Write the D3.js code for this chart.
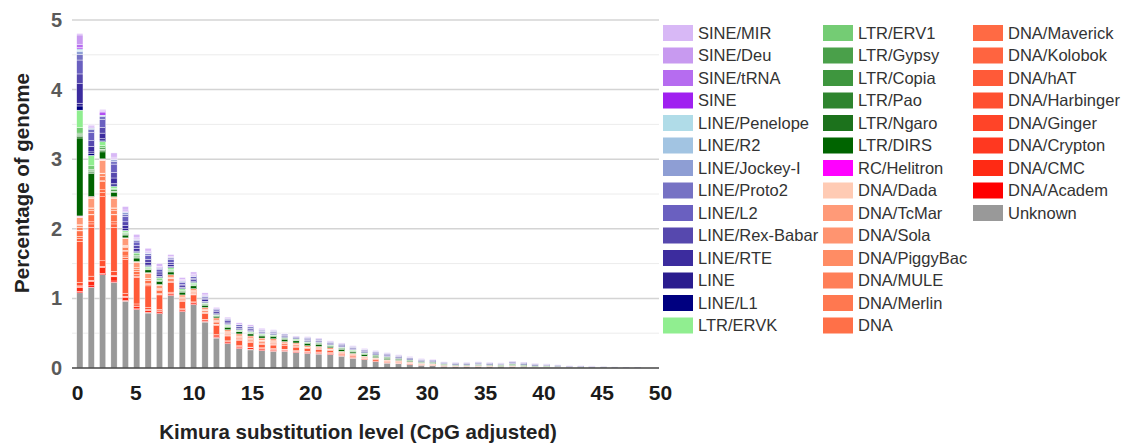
<!DOCTYPE html>
<html>
<head>
<meta charset="utf-8">
<script src="https://cdn.jsdelivr.net/npm/d3@7"></script>
<style>
  body { margin: 0; background: #fff; }
  text { font-family: "Liberation Sans", Arial, sans-serif; }
</style>
</head>
<body>
<div id="chart"></div>
<script>
// Kimura bins (categories)
const kimura = [0,1,2,3,4,5,6,7,8,9,10,11,12,13,14,15,16,17,18,19,20,21,22,23,24,25,26,27,28,29,30,31,32,33,34,35,36,37,38,39,40,41,42,43,44,45,46,47,48,49];
const xTickLabels = [0,5,10,15,20,25,30,35,40,45,50];
const yTickLabels = [0,1,2,3,4,5];

// percentage of genome per bin, one array per repeat class
const unknown = [1.08,1.16,1.34,1.23,0.96,0.84,0.79,0.78,1.04,0.81, 0.91,0.66,0.43,0.35,0.28,0.26,0.25,0.24,0.24,0.22, 0.21,0.20,0.19,0.17,0.14,0.12,0.09,0.07,0.06,0.05, 0.04,0.035,0.025,0.02,0.02,0.02,0.02,0.02,0.02,0.015, 0.01,0.01,0.01,0.005,0.005,0.005,0.005,0.005,0,0];
const dnaAcadem = [.02,.02,.02,.02,.01,.01,.01,.01,.01,.01, .01,.01,.01,.01,.01,.01,.01,.01,.01,.01, .01,.01,.01,0,0,0,0,0,0,0, 0,0,0,0,0,0,0,0,0,0, 0,0,0,0,0,0,0,0,0,0];
const dnaCMC = [.06,.06,.08,.06,.04,.03,.03,.02,.02,.02, .02,.02,.02,.02,.02,.02,.02,.02,.01,.01, .01,.01,.01,.01,.01,.01,.01,.01,.01,.01, .01,.005,.005,0,0,0,0,0,0,0, 0,0,0,0,0,0,0,0,0,0];
const dnaCrypton = [.01,.01,.01,.01,.01,.01,.01,.01,0,0, 0,0,0,0,0,0,0,0,0,0, 0,0,0,0,0,0,0,0,0,0, 0,0,0,0,0,0,0,0,0,0, 0,0,0,0,0,0,0,0,0,0];
const dnaGinger = [.01,.01,.01,.01,.01,0,0,0,0,0, 0,0,0,0,0,0,0,0,0,0, 0,0,0,0,0,0,0,0,0,0, 0,0,0,0,0,0,0,0,0,0, 0,0,0,0,0,0,0,0,0,0];
const dnaHarbinger = [.05,.06,.08,.06,.04,.03,.03,.02,.02,.01, .01,.01,.02,.01,.01,.01,.01,.01,.01,.01, .01,.01,.01,.01,.01,0,0,0,0,0, 0,0,0,0,0,0,0,0,0,0, 0,0,0,0,0,0,0,0,0,0];
const dnaHAT = [.59,.70,.92,.63,.49,.38,.31,.21,.14,.11, .10,.08,.13,.07,.08,.07,.05,.05,.05,.05, .04,.04,.03,.02,.02,.01,.02,.01,.01,0, 0,0,0,0,0,0,0,0,0,0, 0,0,0,0,0,0,0,0,0,0];
const dnaKolobok = [.04,.05,.06,.05,.03,.02,.02,.01,.01,.01, .01,.01,.01,.01,.01,.01,.01,.01,.01,.01, 0,0,0,0,0,0,0,0,0,0, 0,0,0,0,0,0,0,0,0,0, 0,0,0,0,0,0,0,0,0,0];
const dnaMaverick = [.03,.03,.04,.03,.02,.02,.01,.01,.01,.01, .01,.01,.01,.01,.01,.01,.01,.01,0,0, 0,0,0,0,0,0,0,0,0,0, 0,0,0,0,0,0,0,0,0,0, 0,0,0,0,0,0,0,0,0,0];
const dnaPlain = [.08,.10,.12,.10,.07,.05,.05,.04,.03,.02, .02,.02,.03,.02,.02,.02,.02,.02,.02,.02, .01,.01,.01,.01,.01,.01,.01,.01,.01,.01, .005,.005,.005,.005,.005,.005,.005,0,.005,.005, 0,0,0,0,0,0,0,0,0,0];
const dnaMerlin = [.01,.01,.01,.01,.01,0,0,0,0,0, 0,0,0,0,0,0,0,0,0,0, 0,0,0,0,0,0,0,0,0,0, 0,0,0,0,0,0,0,0,0,0, 0,0,0,0,0,0,0,0,0,0];
const dnaMULE = [.04,.05,.06,.05,.04,.03,.02,.02,.01,.01, .01,.01,.01,.01,.01,.01,.01,.01,.01,.01, .01,.01,.01,.01,.01,.01,.01,.01,.01,.01, .005,.005,0,0,0,0,0,0,0,0, 0,0,0,0,0,0,0,0,0,0];
const dnaPiggyBac = [.03,.03,.04,.03,.02,.02,.01,.01,.01,.01, .01,.01,.01,.01,.01,.01,.01,.01,0,0, 0,0,0,0,0,0,0,0,0,0, 0,0,0,0,0,0,0,0,0,0, 0,0,0,0,0,0,0,0,0,0];
const dnaSola = [.01,.01,.01,.01,.01,0,0,0,0,0, 0,0,0,0,0,0,0,0,0,0, 0,0,0,0,0,0,0,0,0,0, 0,0,0,0,0,0,0,0,0,0, 0,0,0,0,0,0,0,0,0,0];
const dnaTcMar = [.10,.14,.18,.14,.10,.08,.07,.05,.04,.03, .03,.03,.04,.03,.03,.03,.03,.03,.02,.02, .02,.02,.02,.01,.01,.01,.01,.01,.01,.01, .01,.01,.005,.005,.005,.005,.005,.005,.005,.005, .005,.005,.005,.005,0,0,0,0,0,0];
const dnaDada = [.02,.02,.02,.02,.01,.01,.01,.01,0,0, 0,0,0,0,0,0,0,0,0,0, 0,0,0,0,0,0,0,0,0,0, 0,0,0,0,0,0,0,0,0,0, 0,0,0,0,0,0,0,0,0,0];
const rcHelitron = [.005,.005,.005,0,0,0,0,0,0,0, 0,0,0,0,0,0,0,0,0,0, 0,0,0,0,0,0,0,0,0,0, 0,0,0,0,0,0,0,0,0,0, 0,0,0,0,0,0,0,0,0,0];
const ltrDIRS = [1.12,.33,.10,.06,.04,.05,.04,.04,.04,.04, .04,.03,.02,.03,.03,.03,.03,.03,.03,.03, .03,.03,.02,.03,.02,.02,.02,.02,.01,.01, .01,.01,.01,.01,.01,.01,.01,.01,.01,.01, .01,.005,.005,0,.005,.005,.005,0,0,0];
const ltrNgaro = [.02,.02,.02,.01,.01,.01,.01,.01,.01,.01, .01,.01,.01,.01,.01,.01,.01,.01,.01,.01, .01,.01,.01,.01,.01,.01,.01,.01,.01,.01, .005,.005,.005,.005,.005,.005,.005,.005,.01,.005, .005,.005,.005,.005,.005,0,0,0,0,0];
const ltrPao = [.02,.01,.01,.01,0,.01,0,0,0,0, 0,0,0,0,0,0,0,0,0,0, 0,0,0,0,0,0,0,0,0,0, 0,0,0,0,0,0,0,0,0,0, 0,0,0,0,0,0,0,0,0,0];
const ltrCopia = [.01,.01,.01,0,0,0,0,0,0,0, 0,0,0,0,0,0,0,0,0,0, 0,0,0,0,0,0,0,0,0,0, 0,0,0,0,0,0,0,0,0,0, 0,0,0,0,0,0,0,0,0,0];
const ltrGypsy = [.02,.02,.02,.02,.01,.02,.01,.01,.01,.01, .01,.01,.01,.01,.01,.01,.01,.01,.01,.01, .01,.01,0,.01,.01,.01,.01,.01,.01,.01, .01,.01,.005,.005,.005,.01,.005,.005,.01,.01, .005,.005,0,0,0,0,0,0,0,0];
const ltrERV1 = [.08,.05,.03,.02,.02,.02,.01,.02,.02,.01, .01,.01,0,.01,0,0,0,0,0,0, 0,0,0,0,0,0,0,0,0,0, 0,0,0,0,0,0,0,0,0,0, 0,0,0,0,0,0,0,0,0,0];
const ltrERVK = [.25,.15,.06,.03,.02,.02,.02,.02,.02,.02, .02,.01,.01,.01,.01,.01,.01,.01,.01,.01, .01,.01,.01,.01,.01,.01,0,0,0,0, 0,0,0,0,0,0,0,0,0,0, 0,0,0,0,0,0,0,0,0,0];
const lineL1 = [.06,.03,.02,.02,.01,.01,.01,.01,.01,.01, .01,.01,.01,.01,.01,.01,.01,.01,.01,.01, .01,.01,.01,.01,.01,.01,.01,.01,.01,.01, .01,.01,.01,.01,.01,.01,.01,.01,.01,.01, .01,.01,.005,.005,.005,.005,.005,.005,.005,.005];
const linePlain = [.04,.02,.02,.02,.02,.01,.01,.01,.01,.01, .01,.01,.01,.01,.01,.01,.01,.01,.01,0, .01,.01,.01,.01,.01,.01,.01,.01,.01,.005, .005,.005,.005,.005,.005,.005,.005,.005,.005,.005, .005,.005,.005,0,0,0,0,0,0,0];
const lineRTE = [.28,.08,.08,.08,.05,.04,.04,.03,.03,.02, .02,.02,.02,.02,.02,.02,.01,.01,.01,.01, .01,.01,.01,.01,.01,.01,.01,.01,.01,.01, .005,.005,.005,.005,.005,.005,.005,.005,.01,.005, .005,.005,.005,.005,.005,.005,0,0,0,0];
const lineRexBabar = [.14,.08,.08,.08,.05,.04,.04,.03,.03,.02, .02,.02,.01,.02,.01,.01,.01,.01,.01,0, .01,.01,.01,.01,.01,.01,.01,.01,0,0, 0,0,0,0,0,.005,0,0,.005,.005, .005,0,0,0,0,0,0,0,0,0];
const lineL2 = [.20,.12,.12,.12,.08,.05,.06,.04,.04,.03, .02,.02,.02,.02,.02,.02,.01,.01,.01,.01, .01,.01,.01,.01,.01,.01,.01,.01,.01,.01, .01,.01,.005,.005,.005,.005,.005,.005,.005,.005, .005,.005,.005,.005,.005,.005,.005,.005,.005,.005];
const lineProto2 = [.08,.04,.04,.04,.03,.02,.02,.01,.02,.01, .01,.01,.01,.01,.01,.01,.01,.01,0,0, .01,0,0,0,0,0,0,0,0,0, 0,0,0,0,0,0,0,0,0,0, 0,0,0,0,0,0,0,0,0,0];
const lineJockey = [.04,.02,.01,.02,.02,.01,.01,.01,.01,.01, .01,.01,0,0,0,0,0,0,0,0, 0,0,0,0,0,0,0,0,0,0, 0,0,0,0,0,0,0,0,0,0, 0,0,0,0,0,0,0,0,0,0];
const lineR2 = [.02,.01,.01,.01,.01,.01,.01,0,0,0, 0,0,0,0,0,0,0,0,0,0, 0,0,0,0,0,0,0,0,0,0, 0,0,0,0,0,0,0,0,0,0, 0,0,0,0,0,0,0,0,0,0];
const linePenelope = [.02,0,0,0,0,0,0,0,0,0, 0,0,0,0,0,0,0,0,0,0, 0,0,0,0,0,0,0,0,0,0, 0,0,0,0,0,0,0,0,0,0, 0,0,0,0,0,0,0,0,0,0];
const sinePlain = [.02,0,.03,0,0,0,0,0,0,0, 0,0,0,0,0,0,0,0,0,0, 0,0,0,0,0,0,0,0,0,0, 0,0,0,0,0,0,0,0,0,0, 0,0,0,0,0,0,0,0,0,0];
const sineTRNA = [.04,.01,.02,.01,.01,.01,.01,.01,0,.01, .01,0,0,0,0,0,0,0,0,0, 0,0,0,0,0,0,0,0,0,0, 0,0,0,0,0,0,0,0,0,0, 0,0,0,0,0,0,0,0,0,0];
const sineDeu = [.14,.02,.02,.02,.02,.01,.01,.01,.01,.01, .01,.01,0,0,0,0,0,0,0,0, 0,0,0,0,0,0,0,0,0,0, 0,0,0,0,0,0,0,0,0,0, 0,0,0,0,0,0,0,0,0,0];
const sineMIR = [.02,.01,.01,.06,.05,.05,.04,.04,.03,.03, .03,.03,.02,.02,.02,.02,.02,.01,.01,.01, .01,.01,.01,.01,.01,.01,.01,.01,.01,.01, .01,.01,.005,.005,.005,.005,.005,.005,.005,.005, .005,.005,.005,.005,.005,.005,0,0,0,0];

// legend order (top of stack first)
const seriesNames = ["SINE/MIR","SINE/Deu","SINE/tRNA","SINE","LINE/Penelope","LINE/R2","LINE/Jockey-I","LINE/Proto2","LINE/L2","LINE/Rex-Babar","LINE/RTE","LINE","LINE/L1","LTR/ERVK","LTR/ERV1","LTR/Gypsy","LTR/Copia","LTR/Pao","LTR/Ngaro","LTR/DIRS","RC/Helitron","DNA/Dada","DNA/TcMar","DNA/Sola","DNA/PiggyBac","DNA/MULE","DNA/Merlin","DNA","DNA/Maverick","DNA/Kolobok","DNA/hAT","DNA/Harbinger","DNA/Ginger","DNA/Crypton","DNA/CMC","DNA/Academ","Unknown"];
const seriesColors = ["#d8b8f6","#c89af0","#b66cf0","#a020f0","#b0dce8","#a2c4e2","#8e9ed4","#7672c4","#6a60c0","#5648ae","#3c2c9e","#2a1c8e","#000080","#90ee90","#74cc74","#4aa04a","#3e963e","#2e842e","#1c721c","#006400","#ff00ff","#ffcbb4","#ff9a78","#ff9470","#ff8c64","#ff7f58","#ff7850","#ff7048","#ff6a44","#ff6440","#ff5a38","#ff5030","#ff4428","#ff3820","#ff2a14","#ff0000","#999999"];
const seriesValues = [sineMIR, sineDeu, sineTRNA, sinePlain, linePenelope, lineR2, lineJockey, lineProto2, lineL2, lineRexBabar, lineRTE, linePlain, lineL1, ltrERVK, ltrERV1, ltrGypsy, ltrCopia, ltrPao, ltrNgaro, ltrDIRS, rcHelitron, dnaDada, dnaTcMar, dnaSola, dnaPiggyBac, dnaMULE, dnaMerlin, dnaPlain, dnaMaverick, dnaKolobok, dnaHAT, dnaHarbinger, dnaGinger, dnaCrypton, dnaCMC, dnaAcadem, unknown];

const width = 1126, height = 448;
const fontFam = '"Liberation Sans", Arial, sans-serif';

const svg = d3.select('#chart')
    .append('svg')
    .attr('width', width)
    .attr('height', height);

// build rows for the stack
const rows = kimura.map((k, i) => {
    const row = { kimura: k };
    seriesNames.forEach((n, j) => { row[n] = seriesValues[j][i]; });
    return row;
});
const stackKeys = seriesNames.slice().reverse(); // Unknown at the bottom
const stacked = d3.stack().keys(stackKeys)(rows);
const color = d3.scaleOrdinal().domain(seriesNames).range(seriesColors);

var x = d3.scaleBand()
    .domain(kimura)
    .range([71.6, 645.7])
    .padding(0.45);
var xTick = d3.scaleLinear().domain([0, 50]).range([77, 660]);
var y = d3.scaleLinear().domain([0, 5]).range([368, 20]);

// gridlines every 0.5
svg.append('g')
    .selectAll('line')
    .data(y.ticks(10).filter(d => d > 0))
    .enter()
    .append('line')
    .attr('x1', 72)
    .attr('x2', 659)
    .attr('y1', d => y(d))
    .attr('y2', d => y(d))
    .attr('stroke', d => Number.isInteger(d) ? '#d4d4d4' : '#ececec')
    .attr('stroke-width', d => Number.isInteger(d) ? 1.5 : 1);

// bars
svg.append('g')
    .selectAll('g')
    .data(stacked)
    .enter()
    .append('g')
    .attr('fill', d => color(d.key))
    .selectAll('rect')
    .data(d => d)
    .enter()
    .append('rect')
    .attr('x', d => x(d.data.kimura))
    .attr('y', d => y(d[1]))
    .attr('width', x.bandwidth())
    .attr('height', d => Math.max(0, y(d[0]) - y(d[1])))
    .attr('stroke', '#fff')
    .attr('stroke-width', 0.4);

// x axis baseline
svg.append('line')
    .attr('x1', 72).attr('x2', 659)
    .attr('y1', y(0)).attr('y2', y(0))
    .attr('stroke', '#444')
    .attr('stroke-width', 1.5);

// y axis labels
svg.append('g')
    .attr('transform', 'translate(62,0)')
    .call(d3.axisLeft(y).tickValues(yTickLabels).tickFormat(d3.format('d')).tickSize(0).tickPadding(0))
    .call(g => g.select('.domain').remove())
    .selectAll('text')
    .attr('font-family', fontFam)
    .attr('font-size', 20)
    .attr('font-weight', 'bold')
    .attr('fill', '#5a5a5a');

// x axis labels
svg.append('g')
    .attr('transform', 'translate(0,' + 385 + ')')
    .call(d3.axisBottom(xTick).tickValues(xTickLabels).tickSize(0).tickPadding(0))
    .call(g => g.select('.domain').remove())
    .selectAll('text')
    .attr('font-family', fontFam)
    .attr('font-size', 21)
    .attr('font-weight', 'bold')
    .attr('fill', '#1a1a1a');

// axis titles
svg.append('text')
    .attr('x', 358)
    .attr('y', 439)
    .attr('text-anchor', 'middle')
    .attr('font-size', 20.5)
    .attr('font-weight', 'bold')
    .attr('fill', '#222')
    .text('Kimura substitution level (CpG adjusted)');

svg.append('text')
    .attr('transform', 'translate(29,183) rotate(-90)')
    .attr('text-anchor', 'middle')
    .attr('font-size', 20.5)
    .attr('font-weight', 'bold')
    .attr('fill', '#222')
    .text('Percentage of genome');

// legend, three columns
const legendCols = [663, 823, 973];
const perCol = 14;
const legend = svg.append('g')
    .selectAll('g')
    .data(seriesNames)
    .enter()
    .append('g')
    .attr('transform', (d, i) => 'translate(' + legendCols[Math.floor(i / perCol)] + ',' + (33 + (i % perCol) * 22.5) + ')');

legend.append('rect')
    .attr('x', 0)
    .attr('y', -8)
    .attr('width', 30)
    .attr('height', 16)
    .attr('fill', d => color(d));

legend.append('text')
    .attr('x', 35)
    .attr('y', 5.5)
    .attr('font-size', 16.5)
    .attr('fill', '#333')
    .text(d => d);
</script>
</body>
</html>
